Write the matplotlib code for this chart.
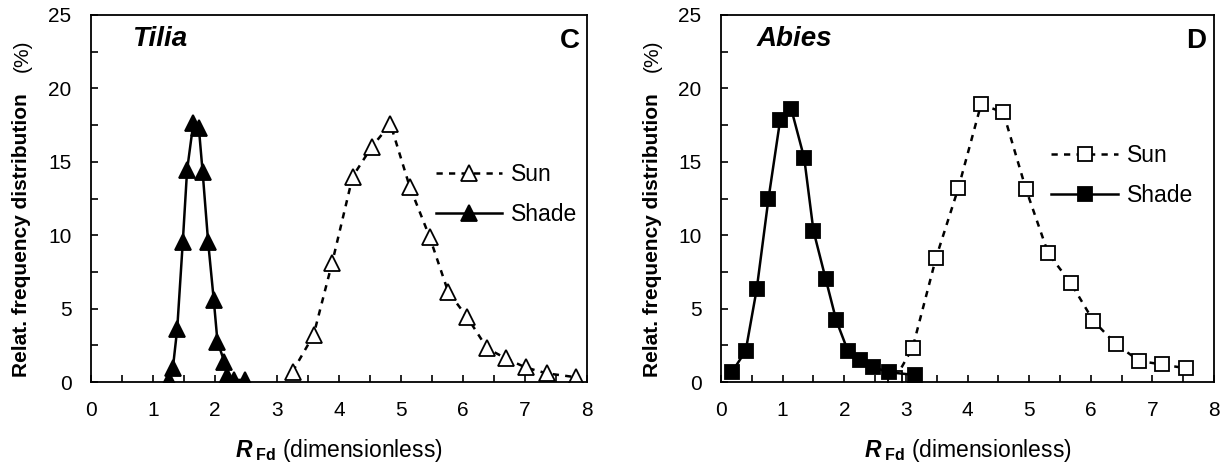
import numpy as np
import matplotlib
matplotlib.use('Agg')
import matplotlib.pyplot as plt

plt.rcParams['font.family'] = ['Liberation Sans', 'DejaVu Sans']
plt.rcParams['mathtext.fontset'] = 'custom'
plt.rcParams['mathtext.rm'] = 'Liberation Sans'
plt.rcParams['mathtext.it'] = 'Liberation Sans:italic'
plt.rcParams['mathtext.bf'] = 'Liberation Sans:bold'
plt.rcParams['mathtext.bfit'] = 'Liberation Sans:bold:italic'

# Tilia (C)
tilia_sun_x = [3.25, 3.59, 3.89, 4.22, 4.53, 4.83, 5.14, 5.46, 5.76, 6.07, 6.39, 6.69, 7.01, 7.35, 7.83]
tilia_sun_y = [0.70, 3.20, 8.13, 13.99, 16.03, 17.57, 13.31, 9.90, 6.15, 4.40, 2.29, 1.61, 0.99, 0.59, 0.32]
tilia_shade_x = [1.25, 1.32, 1.39, 1.48, 1.55, 1.65, 1.74, 1.80, 1.89, 1.98, 2.04, 2.15, 2.20, 2.31, 2.49]
tilia_shade_y = [0.14, 0.93, 3.59, 9.51, 14.44, 17.62, 17.28, 14.33, 9.51, 5.59, 2.75, 1.39, 0.43, 0.14, 0.14]

# Abies (D)
abies_sun_x = [2.83, 3.11, 3.49, 3.85, 4.22, 4.58, 4.95, 5.31, 5.68, 6.04, 6.41, 6.79, 7.15, 7.55]
abies_sun_y = [0.25, 2.34, 8.47, 13.19, 18.91, 18.37, 13.12, 8.76, 6.72, 4.18, 2.57, 1.43, 1.20, 0.93]
abies_shade_x = [0.18, 0.40, 0.58, 0.77, 0.96, 1.14, 1.35, 1.50, 1.70, 1.87, 2.06, 2.25, 2.47, 2.73, 3.15]
abies_shade_y = [0.70, 2.11, 6.34, 12.47, 17.85, 18.60, 15.26, 10.31, 7.00, 4.20, 2.11, 1.50, 1.00, 0.66, 0.48]

W, H = 1228, 468
fig = plt.figure(figsize=(W/100, H/100), dpi=100)
ax1 = fig.add_axes([91/W, 1-382/H, 496/W, 367/H])
ax2 = fig.add_axes([721/W, 1-382/H, 493/W, 367/H])

dash = (0, (2.5, 2.5))


def panel(ax, left_px, sx, sy, hx, hy, mk, ms, name, name_x, letter, leg_x, leg_y):
    ax.plot(sx, sy, color='black', lw=1.8, ls=dash, marker=mk, ms=ms,
            mfc='white', mec='black', mew=1.3, label='Sun')
    ax.plot(hx, hy, color='black', lw=1.8, ls='-', marker=mk, ms=ms,
            mfc='black', mec='black', mew=1.3, label='Shade')
    ax.set_xlim(0, 8)
    ax.set_ylim(0, 25)
    ax.set_xticks(np.arange(0, 9, 1))
    ax.set_xticks(np.arange(0, 8.5, 0.5), minor=True)
    ax.set_yticks(np.arange(0, 26, 5))
    ax.set_yticks(np.arange(0, 26, 2.5), minor=True)
    ax.tick_params(which='both', direction='in', length=5, width=1.2,
                   top=False, right=False, labelsize=15)
    ax.tick_params(axis='x', which='major', pad=14)
    ax.tick_params(axis='y', which='major', pad=14)
    for s in ax.spines.values():
        s.set_linewidth(1.3)
    ax.text(name_x, 0.97, name, transform=ax.transAxes, fontsize=20,
            fontweight='bold', fontstyle='italic', va='top', ha='left')
    ax.text(0.985, 0.965, letter, transform=ax.transAxes, fontsize=20,
            fontweight='bold', va='top', ha='right')
    ax.legend(loc='center left', bbox_to_anchor=(leg_x, leg_y), frameon=False,
              fontsize=16.5, handlelength=2.9, handletextpad=0.4,
              labelspacing=0.75, borderpad=0, borderaxespad=0)
    ax.set_xlabel(r'$\mathbfit{R}_{\;\mathbf{Fd}}$ (dimensionless)', fontsize=16.5, labelpad=12)
    # y label: bold part plus plain "(%)"
    xc = (left_px - 69) / W
    fig.text(xc, 1-377/H, 'Relat. frequency distribution', rotation=90,
             fontsize=15, fontweight='bold', ha='center', va='bottom')
    fig.text(xc, 1-72/H, '(%)', rotation=90, fontsize=15,
             ha='center', va='bottom')


panel(ax1, 91, tilia_sun_x, tilia_sun_y, tilia_shade_x, tilia_shade_y, '^', 11,
      'Tilia', 0.083, 'C', 0.695, 0.51)
panel(ax2, 721, abies_sun_x, abies_sun_y, abies_shade_x, abies_shade_y, 's', 10.5,
      'Abies', 0.073, 'D', 0.67, 0.562)

fig.savefig('out.png', dpi=100)
